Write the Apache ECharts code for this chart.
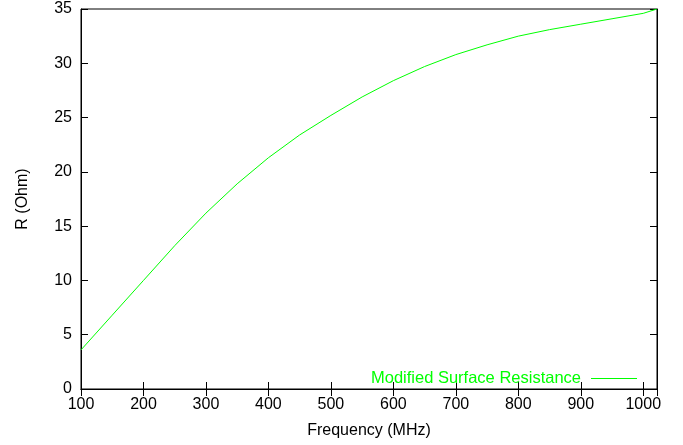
<!DOCTYPE html>
<html><head><meta charset="utf-8">
<script src="https://cdn.jsdelivr.net/npm/echarts@6/dist/echarts.min.js"></script>
<style>html,body{margin:0;padding:0;background:#fff}#c{width:683px;height:445px}</style>
</head><body><div id="c"></div>
<script>
const freq = [100,150,200,250,300,350,400,450,500,550,600,650,700,750,800,850,900,950,1000,1022];
const resistance = [3.6,6.8,10.0,13.2,16.2,18.9,21.3,23.4,25.2,26.9,28.4,29.7,30.8,31.7,32.5,33.1,33.6,34.1,34.6,35.0];
const seriesName = 'Modified Surface Resistance';
const xTitle = 'Frequency (MHz)';
const yTitle = 'R (Ohm)';

const font = 'Liberation Sans, Arial, sans-serif';
const fs = 16;
const chart = echarts.init(document.getElementById('c'), null, {renderer:'canvas'});
const tickStyle = {show:true, inside:true, length:7, lineStyle:{color:'#000', width:1}};
chart.setOption({
  animation:false,
  grid:{left:81, right:26, top:9, bottom:56, show:true, borderColor:'#000', borderWidth:1},
  legend:{
    data:[seriesName], right:41, top:365, align:'right', icon:'rect', itemWidth:46, itemHeight:1, itemGap:10,
    textStyle:{color:'#00ff00', fontSize:16.5, fontFamily:font, padding:[0,5,0,0]}
  },
  xAxis:[{
    type:'value', min:100, max:1022, interval:100, position:'bottom',
    name:xTitle, nameLocation:'middle', nameGap:34,
    nameTextStyle:{color:'#000', fontSize:fs, fontFamily:font},
    axisLine:{show:true, lineStyle:{color:'#000', width:1}},
    axisTick:tickStyle,
    axisLabel:{color:'#000', fontSize:fs, fontFamily:font, margin:8, showMaxLabel:false,
      formatter:v => (v % 100 === 0 ? String(v) : '')},
    splitLine:{show:false}
  },{
    type:'value', min:100, max:1022, interval:100, position:'top',
    axisLine:{show:true, lineStyle:{color:'#000'}}, axisTick:tickStyle,
    axisLabel:{show:false}, splitLine:{show:false}
  }],
  yAxis:[{
    type:'value', min:0, max:35, interval:5, position:'left',
    name:yTitle, nameLocation:'middle', nameGap:50, nameRotate:90,
    nameTextStyle:{color:'#000', fontSize:fs, fontFamily:font},
    axisLine:{show:true, lineStyle:{color:'#000', width:1}},
    axisTick:tickStyle,
    axisLabel:{color:'#000', fontSize:fs, fontFamily:font, margin:9},
    splitLine:{show:false}
  },{
    type:'value', min:0, max:35, interval:5, position:'right',
    axisLine:{show:true, lineStyle:{color:'#000'}}, axisTick:tickStyle,
    axisLabel:{show:false}, splitLine:{show:false}
  }],
  series:[{
    name:seriesName, type:'line', xAxisIndex:0, yAxisIndex:0,
    data:freq.map((f,i)=>[f, resistance[i]]),
    symbol:'none', smooth:false,
    lineStyle:{color:'#00ff00', width:1}, itemStyle:{color:'#00ff00'}
  }]
});
</script></body></html>
